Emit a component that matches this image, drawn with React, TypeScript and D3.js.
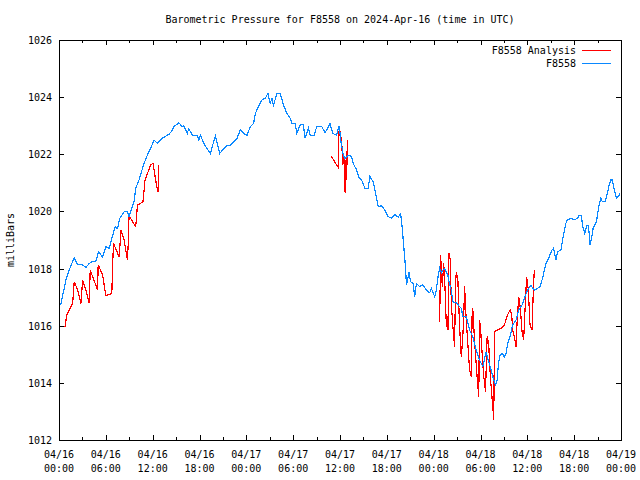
import React, { useEffect, useRef } from 'react';
import * as d3 from 'd3';

// hours since 2024-04-16 00:00 UTC
const stationHours = [
  0.13, 0.26, 0.89, 1.31, 1.95, 2.39, 3.03, 3.45, 3.87, 4.30, 4.72, 5.07, 5.58, 6.00, 6.42, 6.77,
  7.19, 7.49, 7.79, 8.34, 8.77, 8.97, 9.61, 9.83, 10.25, 10.89, 11.32, 11.74, 12.17, 12.60, 13.24,
  14.08, 14.43, 14.72, 15.36, 15.79, 16.00, 16.43, 16.63, 17.07, 17.71, 17.91, 18.13, 18.55, 18.98,
  19.40, 19.62, 20.04, 20.26, 20.59, 21.10, 21.54, 21.96, 22.38, 22.81, 23.23, 23.66, 24.09, 24.51,
  24.93, 25.15, 25.57, 26.00, 26.42, 26.77, 27.06, 27.28, 27.48, 27.92, 28.34, 28.76, 29.20, 29.62,
  29.83, 30.26, 30.47, 30.89, 31.31, 31.53, 31.95, 32.17, 32.68, 33.03, 33.66, 34.09, 34.51, 34.72,
  35.07, 35.58, 35.78, 35.91, 36.09, 36.42, 36.64, 37.06, 37.49, 37.70, 38.13, 38.46, 38.77, 39.19,
  39.61, 39.83, 40.25, 40.47, 40.89, 41.32, 41.74, 42.17, 42.60, 43.02, 43.44, 43.75, 43.88, 44.08,
  44.30, 44.43, 44.52, 44.72, 44.85, 45.03, 45.36, 45.57, 45.79, 46.21, 46.63, 47.07, 47.49, 47.70,
  48.13, 48.34, 48.55, 48.77, 48.98, 49.19, 49.40, 49.83, 50.04, 50.26, 50.46, 50.68, 50.90, 51.32,
  51.54, 51.74, 52.17, 52.60, 53.02, 53.45, 53.87, 54.30, 54.73, 54.93, 55.24, 55.57, 55.91, 56.13,
  56.30, 56.51, 56.77, 57.06, 57.28, 57.48, 57.79, 58.12, 58.56, 58.89, 59.32, 59.81, 60.17, 60.47,
  60.89, 61.32, 61.62, 61.95, 62.39, 62.72, 63.15, 63.36, 63.66, 63.87, 64.30, 64.51, 64.72, 64.94,
  65.14, 65.70, 66.00, 66.42, 66.64, 66.93, 67.06, 67.36, 67.62, 67.83, 68.04, 68.26, 68.43, 68.85,
  69.19, 69.41, 69.61, 69.96, 70.25, 70.47, 70.68, 70.89, 71.11, 71.40, 71.66, 71.87,
];
const stationPressure = [
  1016.75, 1016.78, 1017.6, 1017.95, 1018.38, 1018.13, 1018.13, 1018.04, 1018.18, 1018.25, 1018.25,
  1018.59, 1018.41, 1018.77, 1018.7, 1019.06, 1019.47, 1019.4, 1019.76, 1019.99, 1020.0, 1019.82,
  1020.34, 1020.81, 1021.1, 1021.68, 1021.97, 1022.2, 1022.5, 1022.38, 1022.56, 1022.7, 1022.8,
  1022.97, 1023.1, 1022.97, 1023.0, 1022.73, 1022.9, 1022.67, 1022.67, 1022.5, 1022.67, 1022.38,
  1022.2, 1022.03, 1022.27, 1022.62, 1022.38, 1022.03, 1022.2, 1022.32, 1022.32, 1022.44, 1022.56,
  1022.85, 1022.73, 1022.67, 1022.97, 1023.08, 1023.43, 1023.67, 1023.9, 1023.96, 1024.13, 1023.78,
  1023.96, 1023.72, 1024.13, 1024.13, 1023.72, 1023.43, 1023.26, 1023.08, 1023.08, 1022.73, 1023.03,
  1023.03, 1022.56, 1022.91, 1022.67, 1022.67, 1022.97, 1022.97, 1022.75, 1022.97, 1023.08, 1022.73,
  1022.67, 1022.9, 1023.0, 1022.5, 1021.97, 1021.86, 1021.97, 1021.92, 1021.68, 1021.45, 1021.16,
  1021.1, 1020.81, 1020.81, 1021.22, 1021.04, 1020.75, 1020.17, 1020.2, 1020.05, 1019.82, 1019.76,
  1019.9, 1019.8, 1019.91, 1019.7, 1019.06, 1018.36, 1017.83, 1017.43, 1017.71, 1017.89, 1017.54,
  1017.48, 1017.02, 1017.48, 1017.37, 1017.43, 1017.25, 1017.15, 1017.31, 1017.02, 1017.25, 1017.7,
  1018.0, 1017.85, 1017.95, 1018.0, 1017.75, 1017.45, 1017.25, 1016.84, 1016.8, 1016.8, 1016.67,
  1016.61, 1016.32, 1016.32, 1015.85, 1015.62, 1015.15, 1014.8, 1014.57, 1015.09, 1014.86, 1014.57,
  1014.22, 1013.93, 1014.1, 1014.68, 1014.97, 1015.03, 1014.91, 1015.03, 1015.38, 1015.62, 1016.03,
  1016.2, 1016.55, 1016.72, 1017.1, 1017.31, 1017.4, 1017.25, 1017.31, 1017.37, 1017.66, 1018.18,
  1018.36, 1018.65, 1018.71, 1018.3, 1018.59, 1018.65, 1019.0, 1019.29, 1019.58, 1019.72, 1019.76,
  1019.7, 1019.76, 1019.87, 1019.87, 1019.52, 1019.23, 1019.52, 1019.52, 1018.83, 1019.12, 1019.41,
  1019.64, 1020.22, 1020.46, 1020.34, 1020.34, 1020.63, 1020.92, 1021.1, 1021.1, 1020.81, 1020.46,
  1020.52, 1020.63,
];

// analysis series, NaN marks a gap between runs
const analysisHours = [
  0.77, 0.98, 1.75, 1.95, 2.39, 2.81, 3.03, 3.45, 3.87, 4.00, 4.94, 5.02, 5.58, 6.00, 6.77, 6.86,
  6.98, 7.70, 7.95, 8.34, 8.77, 8.90, 8.97, 9.83, 10.05, 10.76, 11.02, 11.74, 12.04, 12.51, 12.68,
  12.80, 20.0,
  34.85, 35.78, 35.79, 35.91, 36.22, 36.35, 36.51, 36.58, 36.68, 36.77, 36.86, 36.93, 42.0,
  48.77, 48.89, 49.11, 49.28, 49.40, 49.62, 49.83, 49.95, 50.13, 50.26, 50.46, 50.68, 50.81, 50.90,
  51.10, 51.32, 51.54, 51.67, 51.83, 51.96, 52.17, 52.60, 52.81, 52.94, 53.02, 53.23, 53.53, 53.78,
  53.87, 54.00, 54.09, 54.38, 54.64, 54.85, 55.06, 55.15, 55.36, 55.57, 55.70, 55.79, 56.21, 56.64,
  57.06, 57.48, 57.79, 58.00, 58.12, 58.34, 58.56, 58.68, 58.89, 59.11, 59.32, 59.53, 59.74, 59.91,
  60.13, 60.34, 60.60, 60.77, 60.89,
];
const analysisPressure = [
  1015.95, 1016.37, 1016.78, 1017.54, 1017.25, 1016.78, 1017.6, 1017.25, 1016.78, 1017.95, 1017.25,
  1018.13, 1017.78, 1017.05, 1017.13, 1018.06, 1018.88, 1018.41, 1019.35, 1019.0, 1018.3, 1019.06,
  1019.84, 1019.47, 1020.22, 1020.34, 1021.1, 1021.63, 1021.68, 1020.89, 1020.69, 1021.63, NaN,
  1021.94, 1021.54, 1022.2, 1022.95, 1022.44, 1021.63, 1021.92, 1020.87, 1020.63, 1021.8, 1021.1,
  1022.5, NaN,
  1016.14, 1018.47, 1017.37, 1018.18, 1017.71, 1016.03, 1015.85, 1018.53, 1018.3, 1016.78, 1015.97,
  1015.27, 1017.48, 1017.89, 1017.6, 1015.97, 1014.91, 1015.38, 1016.08, 1017.4, 1016.2, 1014.45,
  1014.22, 1016.62, 1016.55, 1015.5, 1014.33, 1013.52, 1016.2, 1015.97, 1015.5, 1014.33, 1013.69,
  1015.62, 1015.38, 1014.68, 1013.87, 1013.17, 1012.7, 1015.79, 1015.85, 1015.91, 1016.03, 1016.38,
  1016.55, 1016.38, 1015.85, 1015.62, 1015.27, 1016.08, 1017.02, 1016.6, 1015.79, 1015.5, 1016.78,
  1017.71, 1017.25, 1016.03, 1015.85, 1017.25, 1017.95,
];

const xTickHours = [0, 6, 12, 18, 24, 30, 36, 42, 48, 54, 60, 66, 72];
const xTickDates = ['04/16', '04/16', '04/16', '04/16', '04/17', '04/17', '04/17', '04/17', '04/18', '04/18', '04/18', '04/18', '04/19'];
const xTickTimes = ['00:00', '06:00', '12:00', '18:00', '00:00', '06:00', '12:00', '18:00', '00:00', '06:00', '12:00', '18:00', '00:00'];
const yTicks = [1012, 1014, 1016, 1018, 1020, 1022, 1024, 1026];

const FONT = '"DejaVu Sans Mono", "Liberation Mono", monospace';
const RED = '#ff0000';
const BLUE = '#0a88ff';

export default function App() {
  const ref = useRef<SVGSVGElement | null>(null);

  useEffect(() => {
    if (!ref.current) return;
    const svg = d3.select(ref.current);
    svg.selectAll('*').remove();

    const left = 59, right = 621, top = 40, bottom = 440;
    const x = d3.scaleLinear().domain([0, 72]).range([left, right]);
    const y = d3.scaleLinear().domain([1012, 1026]).range([bottom, top]);

    svg.append('rect').attr('width', 640).attr('height', 480).attr('fill', '#fff');

    svg.append('text')
      .attr('x', 340).attr('y', 23)
      .attr('text-anchor', 'middle')
      .style('font-family', FONT).style('font-size', '10px')
      .text('Barometric Pressure for F8558 on 2024-Apr-16 (time in UTC)');

    // ticks: x minor every 3h, major every 6h, mirrored top/bottom
    const g = svg.append('g').attr('stroke', '#000').attr('stroke-width', 1).attr('shape-rendering', 'crispEdges');
    d3.range(0, 73, 3).forEach(h => {
      const len = h % 6 === 0 ? 5 : 3;
      const px = Math.round(x(h)) + 0.5;
      g.append('line').attr('x1', px).attr('x2', px).attr('y1', bottom).attr('y2', bottom - len);
      g.append('line').attr('x1', px).attr('x2', px).attr('y1', top).attr('y2', top + len);
    });
    yTicks.forEach(v => {
      const py = Math.round(y(v)) + 0.5;
      g.append('line').attr('x1', left).attr('x2', left + 5).attr('y1', py).attr('y2', py);
      g.append('line').attr('x1', right).attr('x2', right - 5).attr('y1', py).attr('y2', py);
    });

    const labels = svg.append('g').style('font-family', FONT).style('font-size', '10px');
    yTicks.forEach(v => {
      labels.append('text')
        .attr('x', left - 7).attr('y', y(v) + 4)
        .attr('text-anchor', 'end')
        .text(String(v));
    });
    xTickHours.forEach((h, i) => {
      labels.append('text').attr('x', x(h)).attr('y', 458).attr('text-anchor', 'middle').text(xTickDates[i]);
      labels.append('text').attr('x', x(h)).attr('y', 472).attr('text-anchor', 'middle').text(xTickTimes[i]);
    });

    labels.append('text')
      .attr('transform', `translate(14,${(top + bottom) / 2}) rotate(-90)`)
      .attr('text-anchor', 'middle')
      .text('milliBars');

    const line = d3.line<number>()
      .defined(i => !isNaN(analysisPressure[i]))
      .x(i => x(analysisHours[i]))
      .y(i => y(analysisPressure[i]));

    svg.append('path')
      .attr('d', line(d3.range(analysisHours.length)))
      .attr('fill', 'none').attr('stroke', RED).attr('stroke-width', 1.2)
      .attr('shape-rendering', 'crispEdges');

    const line2 = d3.line<number>()
      .x(i => x(stationHours[i]))
      .y(i => y(stationPressure[i]));

    svg.append('path')
      .attr('d', line2(d3.range(stationHours.length)))
      .attr('fill', 'none').attr('stroke', BLUE).attr('stroke-width', 1.2)
      .attr('shape-rendering', 'crispEdges');

    // legend
    const legend = [
      { name: 'F8558 Analysis', color: RED },
      { name: 'F8558', color: BLUE },
    ];
    legend.forEach((d, i) => {
      const ly = 50 + i * 13;
      labels.append('text').attr('x', 576).attr('y', ly + 4).attr('text-anchor', 'end').text(d.name);
      svg.append('line')
        .attr('x1', 582).attr('x2', 611).attr('y1', ly + 0.5).attr('y2', ly + 0.5)
        .attr('stroke', d.color).attr('stroke-width', 1);
    });

    svg.append('rect')
      .attr('x', left + 0.5).attr('y', top + 0.5)
      .attr('width', right - left).attr('height', bottom - top)
      .attr('fill', 'none').attr('stroke', '#000').attr('stroke-width', 1)
      .attr('shape-rendering', 'crispEdges');
  }, []);

  return (
    <svg ref={ref} width={640} height={480} style={{ position: 'absolute', left: 0, top: 0 }} />
  );
}
